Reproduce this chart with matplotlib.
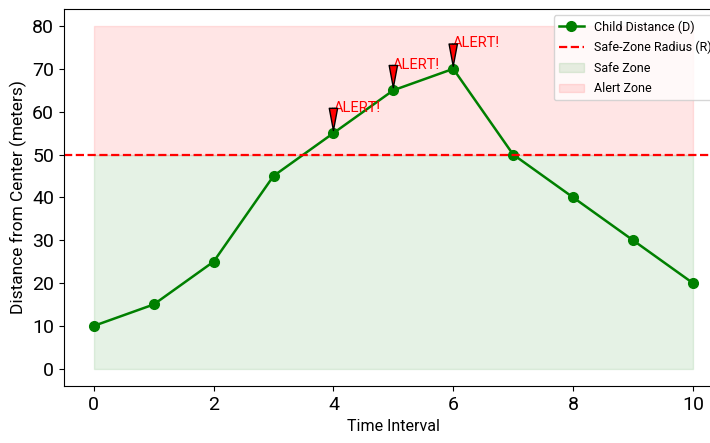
import matplotlib
matplotlib.use("Agg")
import matplotlib.pyplot as plt
import numpy as np

time = [0, 1, 2, 3, 4, 5, 6, 7, 8, 9, 10]
distance = [10, 15, 25, 45, 55, 65, 70, 50, 40, 30, 20]
radius = 50
alert_top = 80

plt.rcParams['font.family'] = ['Roboto', 'DejaVu Sans']

fig = plt.figure(figsize=(7.1, 4.43), dpi=100)
ax = fig.add_axes([0.090, 0.129, 0.928, 0.851])

ax.fill_between(time, 0, radius, color='green', alpha=0.1, label='Safe Zone')
ax.fill_between(time, radius, alert_top, color='red', alpha=0.1, label='Alert Zone')
ax.plot(time, distance, color='green', marker='o', markersize=7, linewidth=1.8,
        label='Child Distance (D)')
ax.axhline(radius, color='red', linestyle='--', linewidth=1.6, label='Safe-Zone Radius (R)')

for t, d in zip(time, distance):
    if d > radius:
        ax.text(t, d + 5, 'ALERT!', color='red', fontsize=10.5, ha='left', va='baseline')
        ax.annotate('', xy=(t, d + 0.6), xytext=(t, d + 5.8),
                    arrowprops=dict(facecolor='red', edgecolor='black', shrink=0.0,
                                    width=1, headwidth=6, headlength=16))

ax.set_xlabel('Time Interval', fontsize=11.5)
ax.set_ylabel('Distance from Center (meters)', fontsize=12.5)
ax.tick_params(labelsize=14)

handles, labels = ax.get_legend_handles_labels()
order = [labels.index(l) for l in ['Child Distance (D)', 'Safe-Zone Radius (R)', 'Safe Zone', 'Alert Zone']]
ax.legend([handles[i] for i in order], [labels[i] for i in order],
          loc='upper right', fontsize=9, labelspacing=0.6)

fig.savefig('out.png', dpi=100)
